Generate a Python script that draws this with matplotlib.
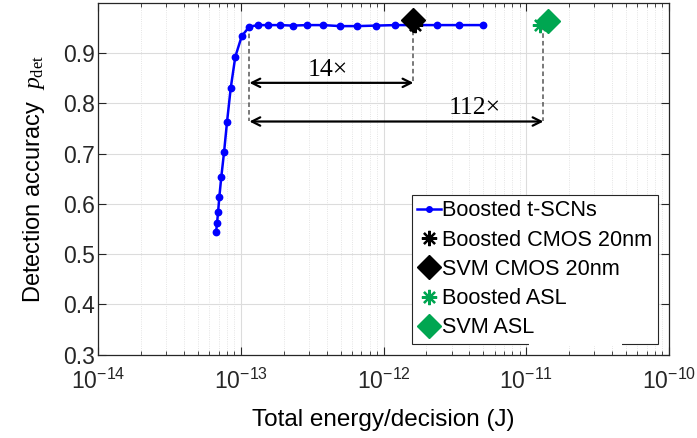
import numpy as np
import matplotlib
matplotlib.use("Agg")
import matplotlib.pyplot as plt
from matplotlib.ticker import FixedLocator, LogLocator, FuncFormatter, NullFormatter
from matplotlib.lines import Line2D

plt.rcParams['font.family'] = ['Liberation Sans', 'DejaVu Sans']
plt.rcParams['mathtext.fontset'] = 'custom'
plt.rcParams['mathtext.rm'] = 'Liberation Serif'
plt.rcParams['mathtext.it'] = 'Liberation Serif:italic'
plt.rcParams['mathtext.sf'] = 'Liberation Sans'

# Boosted t-SCNs: energy per decision (J) vs detection accuracy
tscn_energy = [6.71e-14, 6.82e-14, 6.94e-14, 7.08e-14, 7.31e-14, 7.64e-14, 8.02e-14,
               8.51e-14, 9.16e-14, 1.016e-13, 1.15e-13, 1.33e-13, 1.56e-13, 1.875e-13,
               2.32e-13, 2.92e-13, 3.77e-13, 4.96e-13, 6.56e-13, 8.82e-13, 1.21e-12,
               1.65e-12, 2.36e-12, 3.40e-12, 5.01e-12]
tscn_acc = [0.543, 0.561, 0.584, 0.614, 0.654, 0.703, 0.764, 0.831, 0.893, 0.934,
            0.953, 0.956, 0.956, 0.956, 0.955, 0.956, 0.956, 0.954, 0.954, 0.955,
            0.956, 0.956, 0.956, 0.956, 0.956]

cmos_boosted = (1.65e-12, 0.957)
cmos_svm = (1.62e-12, 0.966)
asl_boosted = (1.25e-11, 0.956)
asl_svm = (1.43e-11, 0.964)

# energy-savings annotations
ref_energy = 1.15e-13
ratio_labels = ["14\u00d7", "112\u00d7"]
ratio_targets = [1.62e-12, 1.32e-11]
ratio_label_x = [4.08e-13, 4.38e-12]
ratio_label_y = [0.867, 0.791]
ratio_arrow_y = [0.841, 0.764]

yticks = [0.3, 0.4, 0.5, 0.6, 0.7, 0.8, 0.9]
xdecades = [-14, -13, -12, -11, -10]

green = '#00A651'
axcol = '#262626'

fig = plt.figure(figsize=(6.97, 4.38), dpi=100)
ax = fig.add_axes([98/697, 1-354.5/438, (669-98)/697, (354.5-3)/438])

ax.set_xscale('log')
ax.set_xlim(1e-14, 1e-10)
ax.set_ylim(0.3, 1.0)

# dashed guide lines
dash = dict(ls=(0, (3, 2)), color='#555555', lw=1.1, zorder=1)
ax.plot([ref_energy, ref_energy], [0.955, 0.765], **dash)
ax.plot([ratio_targets[0]]*2, [0.96, 0.84], **dash)
ax.plot([ratio_targets[1]]*2, [0.97, 0.765], **dash)

# double arrows with ratio labels
for tgt, ay, lx, ly, lab in zip(ratio_targets, ratio_arrow_y, ratio_label_x,
                                ratio_label_y, ratio_labels):
    ax.annotate('', xy=(tgt, ay), xytext=(ref_energy, ay),
                arrowprops=dict(arrowstyle='<->', color='black', lw=1.6,
                                shrinkA=0, shrinkB=0, mutation_scale=15))
    ax.text(lx, ly, lab, ha='center', va='center', fontsize=18.5,
            family=['Liberation Serif', 'DejaVu Serif'], color='black')

ax.plot(tscn_energy, tscn_acc, '-o', color='blue', lw=1.8, ms=4.6, zorder=3)
ast = (8, 2, 0)
ax.plot(*cmos_boosted, marker=ast, color='black', ms=11, mew=1.6, ls='none', zorder=4)
ax.plot(*cmos_svm, marker='D', color='black', ms=12, ls='none', zorder=5)
ax.plot(*asl_boosted, marker=ast, color=green, ms=11, mew=1.6, ls='none', zorder=4)
ax.plot(*asl_svm, marker='D', color=green, ms=12, ls='none', zorder=5)

# ticks and grid
ax.yaxis.set_major_locator(FixedLocator(yticks))
ax.xaxis.set_major_locator(FixedLocator([10.0**d for d in xdecades]))
ax.xaxis.set_minor_locator(LogLocator(base=10, subs=np.arange(2, 10)))
ax.xaxis.set_minor_formatter(NullFormatter())
ax.xaxis.set_major_formatter(FuncFormatter(lambda v, p: r'$\mathsf{10^{%d}}$' % int(round(np.log10(v)))))
ax.yaxis.set_major_formatter(FuncFormatter(lambda v, p: '%.1f' % v))
ax.tick_params(which='both', direction='in', top=True, right=True, colors=axcol)
ax.tick_params(which='major', length=6, width=0.8, labelsize=16.5)
ax.tick_params(axis='x', which='major', pad=10)
ax.tick_params(axis='y', which='major', pad=2)
ax.tick_params(which='minor', length=3, width=0.6)
ax.grid(True, which='major', color='#DCDCDC', lw=0.8)
ax.grid(True, which='minor', axis='x', color='#DCDCDC', lw=0.6, ls=':')
ax.set_axisbelow(True)
for s in ax.spines.values():
    s.set_color(axcol)
    s.set_linewidth(0.9)

ax.set_xlabel('Total energy/decision (J)', fontsize=17.5, color='black', labelpad=11)
ax.set_ylabel(r'Detection accuracy  $p_{\mathrm{det}}$', fontsize=17, color='black', labelpad=12)

handles = [
    Line2D([], [], color='blue', marker='o', lw=1.8, ms=4),
    Line2D([], [], color='black', marker=ast, ms=11, mew=1.6, ls='none'),
    Line2D([], [], color='black', marker='D', ms=12, ls='none'),
    Line2D([], [], color=green, marker=ast, ms=11, mew=1.6, ls='none'),
    Line2D([], [], color=green, marker='D', ms=12, ls='none'),
]
labels = ['Boosted t-SCNs', 'Boosted CMOS 20nm', 'SVM CMOS 20nm', 'Boosted ASL', 'SVM ASL']
leg = ax.legend(handles, labels, loc='upper left', bbox_to_anchor=(412/697, 1-195/438),
                bbox_transform=fig.transFigure, fontsize=15.6, handlelength=1.1,
                handletextpad=0.05, borderpad=0.25, labelspacing=0.38, borderaxespad=0,
                fancybox=False, framealpha=1, edgecolor='#262626')
leg.get_frame().set_linewidth(0.8)

# a short break in the legend's lower border
fig.canvas.draw()
bb = leg.get_frame().get_window_extent()
gap_y = bb.y0 / fig.bbox.height
fig.add_artist(Line2D([530/697, 620/697], [gap_y, gap_y], color='white', lw=2.2, zorder=10))

fig.savefig('out.png', dpi=100)
